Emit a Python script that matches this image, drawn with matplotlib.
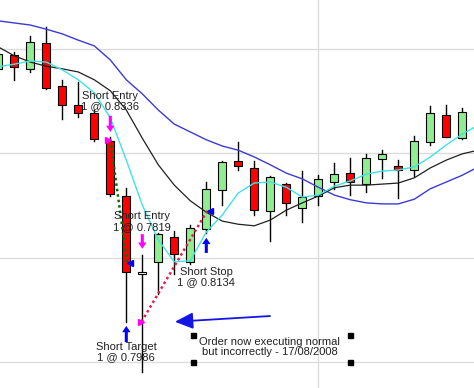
import matplotlib.pyplot as plt
from matplotlib.patches import Rectangle

plt.rcParams['font.family'] = ['Liberation Sans', 'DejaVu Sans']

# bar data (one bar per period)
opens = [0.8362, 0.8389, 0.8362, 0.8412, 0.8329, 0.8293, 0.8277, 0.8224, 0.8118, 0.7971,
         0.7992, 0.8040, 0.7992, 0.8055, 0.8130, 0.8185, 0.8172, 0.8089, 0.8141, 0.8095,
         0.8118, 0.8145, 0.8162, 0.8141, 0.8189, 0.8176, 0.8168, 0.8222, 0.8273, 0.8229]
highs = [0.8398, 0.8394, 0.8425, 0.8442, 0.8341, 0.8337, 0.8283, 0.8231, 0.8134, 0.8005,
         0.8047, 0.8051, 0.8063, 0.8145, 0.8185, 0.8222, 0.8185, 0.8157, 0.8143, 0.8166,
         0.8158, 0.8181, 0.8191, 0.8199, 0.8206, 0.8187, 0.8233, 0.8291, 0.8293, 0.8287]
lows = [0.8356, 0.8341, 0.8356, 0.8323, 0.8266, 0.8270, 0.8224, 0.8118, 0.7877, 0.7781,
        0.7930, 0.7969, 0.7988, 0.8047, 0.8101, 0.8168, 0.8082, 0.8032, 0.8082, 0.8068,
        0.8101, 0.8132, 0.8120, 0.8126, 0.8153, 0.8114, 0.8157, 0.8216, 0.8231, 0.8227]
closes = [0.8390, 0.8366, 0.8413, 0.8325, 0.8293, 0.8277, 0.8227, 0.8122, 0.7972, 0.7971,
          0.8045, 0.8007, 0.8057, 0.8132, 0.8183, 0.8176, 0.8091, 0.8155, 0.8105, 0.8116,
          0.8151, 0.8160, 0.8145, 0.8191, 0.8199, 0.8168, 0.8224, 0.8277, 0.8231, 0.8279]

# indicator lines (one extra point past the last bar)
ma_fast = [0.8366, 0.8371, 0.8377, 0.8375, 0.8360, 0.8341, 0.8316, 0.8268, 0.8187, 0.8101,
           0.8034, 0.7992, 0.7994, 0.8049, 0.8082, 0.8124, 0.8143, 0.8145, 0.8135, 0.8116,
           0.8120, 0.8137, 0.8147, 0.8160, 0.8166, 0.8168, 0.8174, 0.8193, 0.8216, 0.8237, 0.8254]
ma_slow = [0.8404, 0.8387, 0.8375, 0.8367, 0.8362, 0.8356, 0.8341, 0.8320, 0.8283, 0.8229,
           0.8178, 0.8139, 0.8109, 0.8087, 0.8070, 0.8064, 0.8061, 0.8072, 0.8091, 0.8105,
           0.8118, 0.8134, 0.8139, 0.8139, 0.8141, 0.8143, 0.8153, 0.8172, 0.8187, 0.8199, 0.8206]
band = [0.8454, 0.8450, 0.8446, 0.8438, 0.8429, 0.8417, 0.8406, 0.8379, 0.8341, 0.8314,
        0.8283, 0.8256, 0.8241, 0.8226, 0.8214, 0.8206, 0.8193, 0.8178, 0.8162, 0.8151,
        0.8135, 0.8120, 0.8111, 0.8105, 0.8103, 0.8103, 0.8112, 0.8132, 0.8145, 0.8158, 0.8174]

# trade markers: (bar, tail price, tip price)
sell_arrows = [(7, 0.8272, 0.8241), (9, 0.8045, 0.8017)]
buy_arrows = [(8, 0.7838, 0.7869), (13, 0.8009, 0.8038)]
entry_x = [6.85, 8.9]
entry_p = [0.8226, 0.7877]
exit_x = [8.25, 13.25]
exit_p = [0.7990, 0.8089]
trade1_x, trade1_p = [7.0, 8.05], [0.8226, 0.7990]
trade2_x, trade2_p = [8.95, 13.1], [0.7877, 0.8092]

labels = [(7, 0.8300, 'Short Entry\n1 @ 0.8336'),
          (9, 0.8069, 'Short Entry\n1 @ 0.7819'),
          (13, 0.7963, 'Short Stop\n1 @ 0.8134'),
          (8, 0.7819, 'Short Target\n1 @ 0.7986')]

note = 'Order now executing normal\nbut incorrectly - 17/08/2008'
note_x, note_p = 16.95, 0.7829
handle_x = [12.14, 21.95, 12.14, 21.95]
handle_p = [0.7851, 0.7851, 0.7799, 0.7799]
pointer = ((16.98, 0.7888), (11.04, 0.7877))

fig = plt.figure(figsize=(4.74, 3.88), dpi=100)
ax = fig.add_axes([0, 0, 1, 1])

for i, (o, h, l, c) in enumerate(zip(opens, highs, lows, closes)):
    ax.plot([i, i], [l, h], color='black', lw=1, zorder=2)
    if c > o:
        fc = '#90ee90'
    elif c < o:
        fc = '#ff0000'
    else:
        fc = 'white'
    bottom = min(o, c)
    height = max(abs(c - o), 0.0003)
    if c == o:
        bottom -= 0.00015
    ax.add_patch(Rectangle((i - 0.25, bottom), 0.5, height, facecolor=fc,
                           edgecolor='black', lw=0.8, zorder=3))

xs = list(range(len(band)))
ax.plot(xs, band, color='#3b3bd4', lw=1, zorder=4)
ax.plot(xs, ma_slow, color='#202020', lw=0.9, zorder=4)
ax.plot(xs, ma_fast, color='#3fe3e3', lw=1, zorder=4)

ax.plot(trade1_x, trade1_p, color='#0a6e0a', lw=1.8, ls=(0, (1, 1.2)), zorder=5)
ax.plot(trade2_x, trade2_p, color='#e0204a', lw=1.8, ls=(0, (1, 1.2)), zorder=5)

arrow_style = 'simple,head_length=0.45,head_width=0.6,tail_width=0.22'
for x, tail, tip in sell_arrows:
    ax.annotate('', xy=(x, tip), xytext=(x, tail),
                arrowprops=dict(arrowstyle=arrow_style, color='#ff00ff', lw=0,
                                mutation_scale=10, shrinkA=0, shrinkB=0), zorder=6)
for x, tail, tip in buy_arrows:
    ax.annotate('', xy=(x, tip), xytext=(x, tail),
                arrowprops=dict(arrowstyle=arrow_style, color='#0000ff', lw=0,
                                mutation_scale=10, shrinkA=0, shrinkB=0), zorder=6)

ax.plot(entry_x, entry_p, ls='none', marker='>', color='#ff00ff', ms=5, zorder=6)
ax.plot(exit_x, exit_p, ls='none', marker='<', color='#0000ff', ms=5, zorder=6)

for x, p, s in labels:
    ax.text(x, p, s, ha='center', va='center', fontsize=8, color='#202020',
            linespacing=1.05, zorder=7)

ax.annotate('', xy=pointer[1], xytext=pointer[0],
            arrowprops=dict(arrowstyle='-|>,head_length=1.1,head_width=0.5',
                            color='#1414e6', lw=1.3, mutation_scale=10,
                            shrinkA=0, shrinkB=0), zorder=7)

ax.text(note_x, note_p, note, ha='center', va='center', fontsize=8,
        color='#202020', linespacing=1.05, zorder=7)
ax.plot(handle_x, handle_p, ls='none', marker='s', color='black', ms=3.6, zorder=7)

ax.set_xlim(0.106, 29.731)
ax.set_ylim(0.775, 0.8494)
ax.set_xticks([20])
ax.set_yticks([0.78, 0.80, 0.82, 0.84])
ax.grid(color='#dcdcdc', lw=1)
ax.set_axisbelow(True)
ax.tick_params(length=0, labelbottom=False, labelleft=False)
for sp in ax.spines.values():
    sp.set_visible(False)

fig.savefig('out.png', dpi=100)
